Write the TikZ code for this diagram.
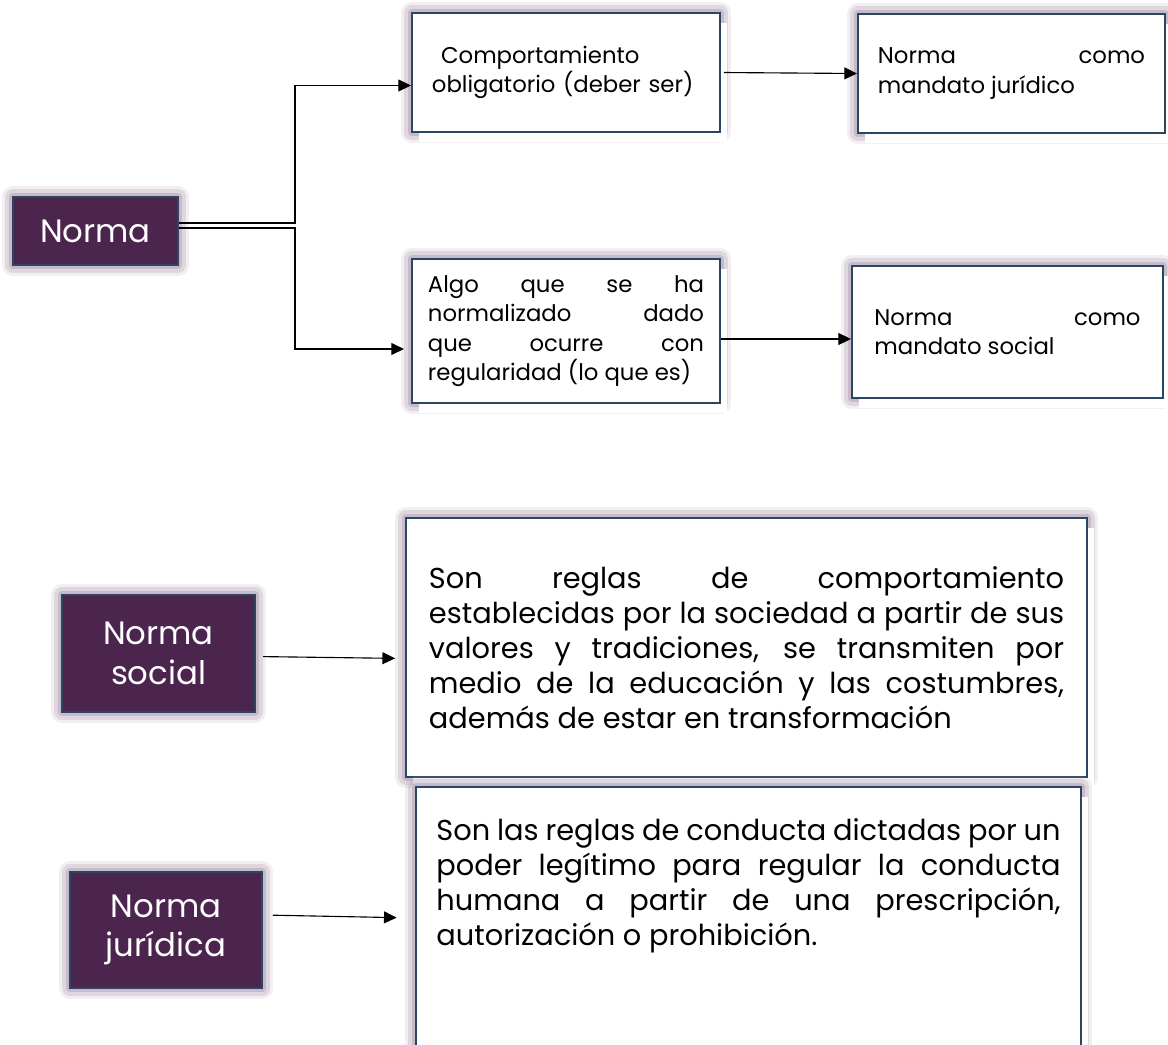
\documentclass[tikz,border=0pt]{standalone}
\usepackage{fontspec}
\setmainfont{Poppins}
\usepackage{tikz}
\definecolor{normPurple}{HTML}{4B254E}
\definecolor{normEdge}{HTML}{2A4660}
\definecolor{normGlow}{HTML}{A58FAA}
\usetikzlibrary{arrows.meta,positioning,shadows}

\begin{document}
\begin{tikzpicture}[
  x=0.025cm, y=-0.025cm,
  glow/.style={preaction={draw=normGlow, line width=16pt, opacity=0.15, line join=round},
               preaction={draw=normGlow, line width=11pt, opacity=0.25, line join=round},
               preaction={draw=normGlow, line width=6pt, opacity=0.4, line join=round}},
  termbox/.style={glow, draw=normEdge, line width=1.4pt, fill=normPurple, text=white, align=center, inner sep=0pt, font=\fontsize{23}{28}\selectfont},
  notebox/.style={glow, general shadow={fill=white, shadow xshift=5pt, shadow yshift=-7pt}, draw=normEdge, line width=1.4pt, fill=white, text=black, align=justify, inner sep=0pt, font=\fontsize{16.2}{21}\selectfont},
  wordbox/.style={notebox, font=\fontsize{20.5}{25}\selectfont},
  link/.style={line width=0.8pt, black},
  arrow/.style={link, -{Triangle[length=9pt, width=8.5pt]}}
]
\useasboundingbox (0,0) rectangle (1168,1044);

% Top part: Norma and its two readings
\node[termbox, minimum width=4.125cm, minimum height=1.7cm] (norma) at (95.5,231) {Norma};
\node[notebox, align=left, text width=6.7cm, minimum width=7.7cm, minimum height=2.975cm] (comp) at (566,72.5) {\hspace{0.4em}Comportamiento\\obligatorio (deber ser)};
\node[notebox, text width=6.675cm, minimum width=7.675cm, minimum height=2.975cm] (manj) at (1011.5,73.5) {Norma como\linebreak mandato jurídico};
\node[notebox, text width=6.9cm, minimum width=7.7cm, minimum height=3.6cm] (algo) at (566,331) {Algo que se ha\linebreak normalizado dado\linebreak que ocurre con\linebreak regularidad (lo que es)};
\node[notebox, text width=6.65cm, minimum width=7.775cm, minimum height=3.3cm] (mans) at (1007.5,332) {Norma como\linebreak mandato social};

\draw[arrow] ([shift={(0,-8)}]norma.east) -| ([shift={(-116,13)}]comp.west) -- ([shift={(0,13)}]comp.west);
\draw[arrow, shorten >=5pt] ([shift={(0,-3)}]norma.east) -| ([shift={(-116,18)}]algo.west) -- ([shift={(0,18)}]algo.west);
\draw[arrow, shorten <=2pt] (comp.east) -- (manj.west);
\draw[arrow] ([shift={(0,8)}]algo.east) -- ([shift={(0,7)}]mans.west);

% Bottom part: definitions
\node[termbox, minimum width=4.825cm, minimum height=2.925cm] (nsoc) at (158.5,653.5) {Norma\\social};
\node[wordbox, text width=15.875cm, minimum width=17.025cm, minimum height=6.475cm] (defsoc) at (746.5,647.5) {Son reglas de comportamiento\linebreak establecidas por la sociedad a partir de sus\linebreak valores y tradiciones, se transmiten por\linebreak medio de la educación y las costumbres,\linebreak además de estar en transformación};
\node[termbox, minimum width=4.8cm, minimum height=2.9cm] (njur) at (166,930) {Norma\\jurídica};
\node[wordbox, text width=15.6cm, minimum width=16.625cm, minimum height=6.5cm] (defjur) at (748.5,917) {Son las reglas de conducta dictadas por un\linebreak poder legítimo para regular la conducta\linebreak humana a partir de una prescripción,\linebreak autorización o prohibición.\\[1.2em]};

\draw[arrow, shorten <=5pt, shorten >=7pt] ([shift={(0,3)}]nsoc.east) -- ([shift={(0,11)}]defsoc.west);
\draw[arrow, shorten <=7pt, shorten >=13pt] ([shift={(0,-15)}]njur.east) -- ([shift={(0,1)}]defjur.west);

\end{tikzpicture}
\end{document}
